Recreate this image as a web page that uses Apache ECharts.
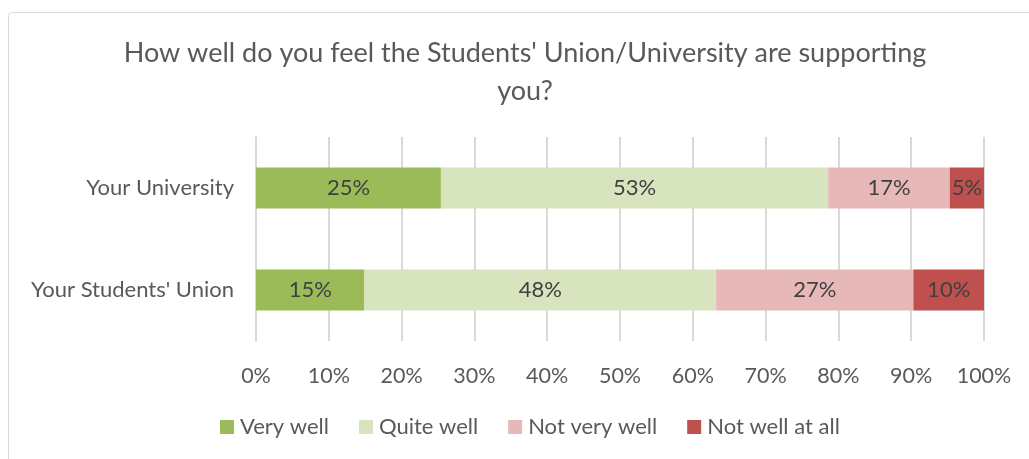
<!DOCTYPE html>
<html><head><meta charset="utf-8">
<script src="https://cdn.jsdelivr.net/npm/echarts@6/dist/echarts.min.js"></script>
<style>html,body{margin:0;padding:0;background:#fff}#c{width:1029px;height:459px}</style>
</head><body><div id="c"></div>
<script>
const categories = ["Your Students' Union", "Your University"];
const seriesNames = ["Very well", "Quite well", "Not very well", "Not well at all"];
const veryWell = [14.9, 25.4];
const quiteWell = [48.3, 53.2];
const notVeryWell = [27.1, 16.7];
const notWellAtAll = [9.7, 4.7];
const xTicks = [0, 10, 20, 30, 40, 50, 60, 70, 80, 90, 100];
const colors = ["#9BBB59", "#D7E4BD", "#E6B9B8", "#C0504D"];
const FONT = "Lato";
const values = [veryWell, quiteWell, notVeryWell, notWellAtAll];
const chart = echarts.init(document.getElementById('c'));
chart.setOption({
  animation: false,
  textStyle: {fontFamily: FONT},
  title: {
    text: "How well do you feel the Students' Union/University are supporting\nyou?",
    left: 520, top: 29, textAlign: 'center',
    textStyle: {fontFamily: FONT, fontSize: 27, fontWeight: 'normal', color: '#595959', lineHeight: 38}
  },
  graphic: [{type: 'rect', shape: {x: 8.5, y: 12.5, width: 1040, height: 460, r: 3}, style: {fill: 'none', stroke: '#d9d9d9', lineWidth: 1}, silent: true, z: -1}],
  legend: {
    top: 411, left: 215, itemWidth: 14, itemHeight: 14, itemGap: 30,
    icon: 'rect',
    textStyle: {fontFamily: FONT, fontSize: 22, color: '#595959', padding: [0, 0, 0, 1]},
    data: seriesNames
  },
  grid: {left: 256, right: 45, top: 137, bottom: 118},
  xAxis: {
    type: 'value', min: 0, max: 100, interval: 10,
    axisLabel: {formatter: v => xTicks.includes(v) ? v + '%' : '', fontSize: 21.5, color: '#595959', margin: 24, fontFamily: FONT},
    splitLine: {lineStyle: {color: '#d9d9d9', width: 2}},
    axisLine: {show: false}, axisTick: {show: false}
  },
  yAxis: {
    type: 'category', data: categories,
    axisLabel: {fontSize: 22, color: '#595959', margin: 22, fontFamily: FONT},
    axisLine: {show: true, lineStyle: {color: '#d9d9d9', width: 2}}, axisTick: {show: false}
  },
  series: seriesNames.map((n, i) => ({
    name: n, type: 'bar', stack: 'total', barWidth: 41,
    itemStyle: {color: colors[i]},
    label: {show: true, position: 'inside', formatter: p => Math.round(p.value) + '%', fontSize: 22, color: '#404040', fontFamily: FONT},
    data: values[i]
  }))
});
</script></body></html>
